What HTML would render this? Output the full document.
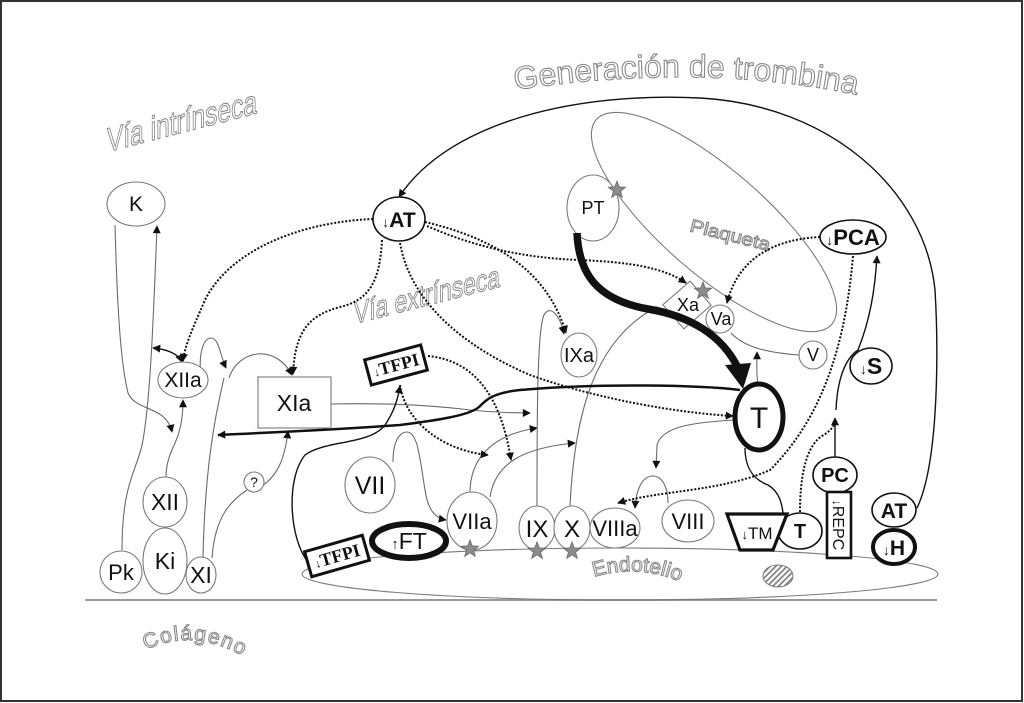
<!DOCTYPE html>
<html><head><meta charset="utf-8">
<style>
html,body{margin:0;padding:0;background:#fff}
svg{display:block}
.g{fill:none;stroke:#6a6a6a;stroke-width:1.1}
.b{fill:none;stroke:#111;stroke-width:1.4}
.d{fill:none;stroke:#111;stroke-width:2;stroke-dasharray:2 1.7}
.n{fill:#fff;stroke:#7a7a7a;stroke-width:1.1}
.nb{fill:#fff;stroke:#111;stroke-width:1.6}
.o{fill:#fff;stroke:#8a8a8a;stroke-width:1.1}
.t{fill:#111;text-anchor:middle;font-family:"Liberation Sans","DejaVu Sans",sans-serif}
.bo{font-weight:bold}
.sr{font-family:"Liberation Serif","DejaVu Serif",serif;font-weight:bold}
</style></head>
<body>
<svg width="1024" height="703" viewBox="0 0 1024 703" xmlns="http://www.w3.org/2000/svg" font-family="Liberation Sans, DejaVu Sans, sans-serif">
<defs>
<marker id="a" viewBox="0 0 10 10" refX="9" refY="5" markerWidth="9" markerHeight="8" markerUnits="userSpaceOnUse" orient="auto"><path d="M0,0 L10,5 L0,10 z" fill="#111"/></marker>
<marker id="as" viewBox="0 0 10 10" refX="9" refY="5" markerWidth="9" markerHeight="8" markerUnits="userSpaceOnUse" orient="auto-start-reverse"><path d="M0,0 L10,5 L0,10 z" fill="#111"/></marker>
<path id="st" d="M0,-9 L2.23,-3.07 L8.56,-2.78 L3.61,1.17 L5.29,7.28 L0,3.8 L-5.29,7.28 L-3.61,1.17 L-8.56,-2.78 L-2.23,-3.07 Z" fill="#8c8c8c" stroke="#666" stroke-width="0.8"/>
<pattern id="h" width="4" height="4" patternUnits="userSpaceOnUse" patternTransform="rotate(45)"><rect width="4" height="4" fill="#fff"/><line x1="1" y1="0" x2="1" y2="4" stroke="#777" stroke-width="1.6"/></pattern>
<path id="p1" d="M 515,90 Q 700,62 858,95" fill="none"/>
<path id="p2" d="M 594,577 Q 640,563 686,584" fill="none"/>
<path id="p3" d="M 146,650 Q 195,626 250,660" fill="none"/>
</defs>

<rect x="1" y="1" width="1021" height="700" fill="#fff" stroke="#333" stroke-width="2"/>

<!-- title texts -->
<text class="o" font-size="32"><textPath href="#p1">Generación de trombina</textPath></text>
<text class="o" font-size="34" transform="translate(107,152) skewY(-14.5)" textLength="150" lengthAdjust="spacingAndGlyphs">Vía intrínseca</text>
<text class="o" font-size="31" transform="translate(354,324) skewY(-14.3)" textLength="146" lengthAdjust="spacingAndGlyphs">Vía extrínseca</text>
<text class="o" font-size="18" transform="translate(689,231) rotate(14)" textLength="82" lengthAdjust="spacingAndGlyphs">Plaqueta</text>
<text class="o" font-size="21"><textPath href="#p2">Endotelio</textPath></text>
<text class="o" font-size="21" letter-spacing="1.5"><textPath href="#p3">Colágeno</textPath></text>

<!-- ground & endothelium -->
<line x1="85" y1="600" x2="937" y2="600" stroke="#9a9a9a" stroke-width="2"/>
<ellipse cx="620" cy="574" rx="318" ry="26" fill="none" stroke="#7a7a7a" stroke-width="1.1"/>
<ellipse cx="778" cy="576" rx="15" ry="11" fill="url(#h)" stroke="#777" stroke-width="1"/>

<!-- platelet -->
<ellipse cx="714" cy="222" rx="156" ry="52" transform="rotate(41 714 222)" fill="none" stroke="#7a7a7a" stroke-width="1.1"/>

<!-- gray connectors -->
<path class="g" d="M 122,550 C 122,480 138,470 143,440 C 150,400 153,330 157,226" marker-end="url(#a)"/>
<path class="g" d="M 115,225 C 117,300 120,360 128,393 C 136,412 166,405 172,432" marker-end="url(#a)"/>
<path class="g" d="M 166,478 C 166,455 176,445 179,432 C 182,422 183,413 183,400" marker-end="url(#a)"/>
<path class="b" d="M 153,348 C 165,349 178,353 182,362" marker-start="url(#as)" marker-end="url(#a)"/>
<path class="g" d="M 203,557 C 205,470 214,420 224,378"/>
<path class="g" d="M 201,378 C 198,352 204,338 211,338 C 219,338 220,355 226,368" marker-end="url(#a)"/>
<path class="g" d="M 229,378 C 238,350 275,343 292,375" marker-end="url(#a)"/>
<path class="g" d="M 212,558 C 215,515 232,500 247,490"/>
<path class="g" d="M 262,486 C 278,475 285,458 288,431" marker-end="url(#a)"/>
<path class="g" d="M 331,404 C 380,403 430,405 470,410 C 490,412 510,413 530,413" marker-end="url(#a)"/>
<path class="g" d="M 393,462 C 393,440 400,432 407,432 C 418,432 420,460 425,490 C 428,510 435,518 446,520" marker-end="url(#a)"/>
<path class="g" d="M 470,493 C 470,460 490,435 537,428" marker-end="url(#a)"/>
<path class="g" d="M 490,497 C 495,465 520,448 575,443" marker-end="url(#a)"/>
<path class="g" d="M 537,507 C 537,420 537,330 544,315 C 550,304 560,315 564,334" marker-end="url(#a)"/>
<path class="g" d="M 570,507 C 574,420 592,340 657,307" marker-end="url(#a)"/>
<path class="g" d="M 799,355 C 770,353 745,348 731,333"/>
<path class="g" d="M 758,385 C 756,372 757,362 757,352" marker-end="url(#a)"/>
<path class="g" d="M 735,420 C 700,422 662,425 657,445 L 656,468" marker-end="url(#a)"/>
<path class="g" d="M 668,503 C 668,485 661,476 653,476 C 642,476 636,490 635,508" marker-end="url(#a)"/>

<!-- black connectors -->
<path class="b" d="M 917,508 C 940,460 938,340 935,290 C 925,190 830,105 700,98 C 580,92 450,120 399,197" marker-end="url(#a)"/>
<path class="b" style="stroke-width:2.5" d="M 740,390 C 700,385 600,383 520,390 C 492,393 486,400 479,407 C 470,415 440,420 400,425 C 330,430 260,433 218,435" marker-end="url(#a)"/>
<path class="b" d="M 308,562 C 290,540 285,480 305,455 C 325,440 370,445 385,425 C 395,410 398,398 400,386" marker-end="url(#a)"/>
<path class="b" d="M 745,448 C 745,470 755,480 768,485 C 780,492 782,505 783,513"/>
<path class="b" d="M 835,458 L 835,418" marker-end="url(#a)"/>
<path class="b" d="M 836,410 C 837,385 843,360 858,350 C 870,320 875,290 877,256" marker-end="url(#a)"/>

<!-- dotted connectors -->
<path class="d" d="M 373,219 C 300,222 230,250 205,300 C 192,330 185,345 183,361" marker-end="url(#a)"/>
<path class="d" d="M 382,240 C 380,280 370,300 340,307 C 310,315 295,330 293,374" marker-end="url(#a)"/>
<path class="d" d="M 400,243 C 410,300 460,345 530,375 C 600,400 680,413 733,416" marker-end="url(#a)"/>
<path class="d" d="M 425,222 C 480,235 545,262 566,333" marker-end="url(#a)"/>
<path class="d" d="M 427,226 C 470,245 520,258 580,260 C 630,262 665,268 686,283" marker-end="url(#a)"/>
<path class="d" d="M 428,356 C 470,360 500,390 511,460" marker-end="url(#a)"/>
<path class="d" d="M 400,385 C 405,420 440,450 488,455" marker-end="url(#a)"/>
<path class="d" d="M 820,237 C 760,240 735,270 727,303" marker-end="url(#a)"/>
<path class="d" d="M 853,256 C 845,350 820,420 770,470 C 720,492 660,490 618,503" marker-end="url(#a)"/>
<path class="d" d="M 800,512 C 800,470 808,445 822,436 C 832,430 835,425 835,420"/>

<!-- gray nodes -->
<ellipse class="n" cx="136" cy="204" rx="29" ry="22"/>
<ellipse class="n" cx="183" cy="380" rx="25" ry="18"/>
<ellipse class="n" cx="165" cy="502" rx="22" ry="25"/>
<ellipse class="n" cx="165" cy="561" rx="22" ry="33"/>
<ellipse class="n" cx="121" cy="572" rx="21" ry="21"/>
<ellipse class="n" cx="201" cy="575" rx="15" ry="18"/>
<ellipse class="n" cx="254" cy="482" rx="10" ry="10"/>
<rect class="n" x="258" y="377" width="73" height="51"/>
<ellipse class="n" cx="370" cy="485" rx="25" ry="28"/>
<ellipse class="n" cx="472" cy="521" rx="25" ry="29"/>
<ellipse class="n" cx="537" cy="528" rx="18" ry="22"/>
<ellipse class="n" cx="572" cy="528" rx="18" ry="22"/>
<ellipse class="n" cx="615" cy="528" rx="25" ry="20"/>
<ellipse class="n" cx="688" cy="521" rx="26" ry="21"/>
<ellipse class="n" cx="579" cy="355" rx="18" ry="22"/>
<ellipse class="n" cx="593" cy="208" rx="26" ry="33"/>
<ellipse class="n" cx="813" cy="355" rx="14" ry="14"/>
<rect class="n" x="-18" y="-16" width="36" height="32" transform="translate(687,305) rotate(-41)"/>
<ellipse class="n" cx="720" cy="319" rx="14" ry="14"/>

<!-- thick PT -> T arrow -->
<path d="M 577,233 C 579,275 598,300 648,309 C 690,316 722,335 738,368" fill="none" stroke="#111" stroke-width="7.5"/>
<polygon points="725,365 751,363 743,389" fill="#111"/>

<!-- black nodes -->
<ellipse class="nb" cx="399" cy="219" rx="26" ry="22"/>
<ellipse class="nb" cx="853" cy="237" rx="33" ry="17"/>
<ellipse class="nb" cx="871" cy="366" rx="21" ry="18"/>
<ellipse class="nb" cx="835" cy="475" rx="22" ry="18"/>
<ellipse class="nb" cx="894" cy="510" rx="22" ry="17"/>
<ellipse class="nb" cx="894" cy="547" rx="21" ry="17" style="stroke-width:4"/>
<ellipse class="nb" cx="800" cy="531" rx="22" ry="18"/>
<ellipse class="nb" cx="759" cy="417" rx="24" ry="33" style="stroke-width:5"/>
<ellipse class="nb" cx="409" cy="541" rx="37" ry="17" style="stroke-width:6"/>
<polygon class="nb" points="727,514 787,514 773,550 740,550" style="stroke-width:3.2"/>
<rect class="nb" x="827" y="492" width="24" height="66" style="stroke-width:2.6"/>
<rect class="nb" x="-29" y="-13" width="58" height="26" transform="translate(396,365) rotate(-15)" style="stroke-width:3"/>
<rect class="nb" x="-30" y="-13" width="60" height="26" transform="translate(337,556) rotate(-16)" style="stroke-width:3"/>

<!-- stars -->
<use href="#st" x="470" y="549"/>
<use href="#st" x="537" y="551"/>
<use href="#st" x="572" y="551"/>
<use href="#st" x="617" y="190"/>
<use href="#st" x="703" y="291"/>

<!-- labels -->
<text class="t" x="136" y="211" font-size="21">K</text>
<text class="t" x="183" y="387" font-size="21">XIIa</text>
<text class="t" x="165" y="510" font-size="23">XII</text>
<text class="t" x="165" y="569" font-size="23">Ki</text>
<text class="t" x="121" y="580" font-size="22">Pk</text>
<text class="t" x="201" y="583" font-size="23">XI</text>
<text class="t" x="254" y="487" font-size="14">?</text>
<text class="t" x="294" y="411" font-size="23">XIa</text>
<text class="t" x="370" y="494" font-size="25">VII</text>
<text class="t" x="472" y="529" font-size="22">VIIa</text>
<text class="t" x="537" y="537" font-size="24">IX</text>
<text class="t" x="572" y="537" font-size="24">X</text>
<text class="t" x="615" y="536" font-size="22">VIIIa</text>
<text class="t" x="688" y="529" font-size="22">VIII</text>
<text class="t" x="579" y="362" font-size="20">IXa</text>
<text class="t" x="593" y="214" font-size="18">PT</text>
<text class="t" x="813" y="361" font-size="18">V</text>
<text class="t" x="721" y="325" font-size="18">Va</text>
<text class="t" x="688" y="311" font-size="18">Xa</text>
<text class="t" x="759" y="428" font-size="30">T</text>
<text class="t bo" x="800" y="538" font-size="20">T</text>
<text class="t bo" x="835" y="482" font-size="20">PC</text>
<text class="t bo" x="894" y="518" font-size="21">AT</text>
<text class="t bo" x="894" y="555" font-size="21"><tspan font-size="14" font-weight="normal">↓</tspan>H</text>
<text class="t bo" x="871" y="374" font-size="23"><tspan font-size="14" font-weight="normal">↓</tspan>S</text>
<text class="t bo" x="853" y="245" font-size="22"><tspan font-size="14" font-weight="normal">↓</tspan>PCA</text>
<text class="t bo" x="399" y="227" font-size="21"><tspan font-size="14" font-weight="normal">↓</tspan>AT</text>
<text class="t" x="757" y="539" font-size="17"><tspan font-size="13">↓</tspan>TM</text>
<text class="t" x="409" y="549" font-size="23"><tspan font-size="15">↑</tspan>FT</text>
<text class="t" font-size="16" transform="translate(839,525) rotate(90)" y="6"><tspan font-size="12">↓</tspan>REPC</text>
<text class="t sr" font-size="18" transform="translate(396,365) rotate(-15)" y="6"><tspan font-size="12" font-weight="normal">↓</tspan>TFPI</text>
<text class="t sr" font-size="18" transform="translate(337,556) rotate(-16)" y="6"><tspan font-size="12" font-weight="normal">↓</tspan>TFPI</text>
</svg>
</body></html>
